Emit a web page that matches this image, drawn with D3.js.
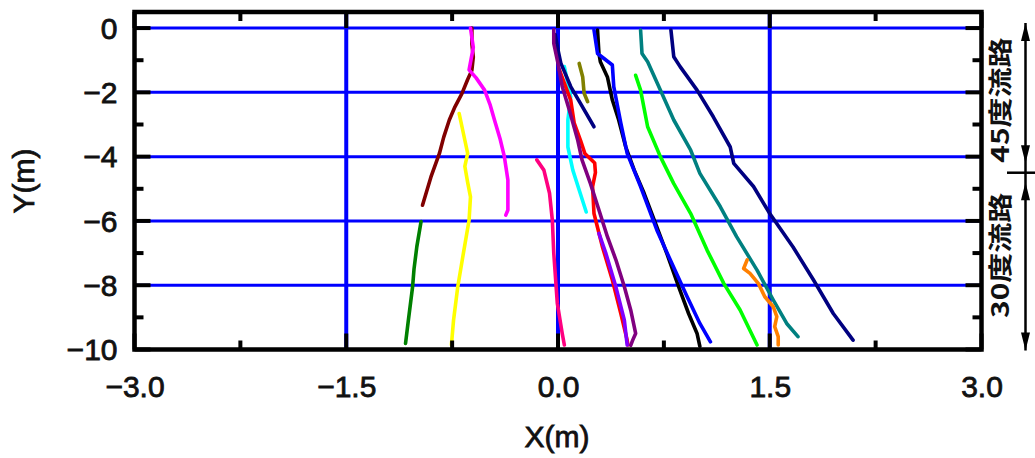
<!DOCTYPE html>
<html>
<head>
<meta charset="utf-8">
<script src="https://cdn.jsdelivr.net/npm/d3@7"></script>
<style>
  html, body { margin: 0; padding: 0; background: #fff; }
  svg { display: block; }
</style>
</head>
<body>
<svg id="chart" width="1035" height="458"></svg>
<script>
// Axis tick values
const xTicks = [-3.0, -1.5, 0.0, 1.5, 3.0];
const xMinorTicks = [-2.25, -0.75, 0.75, 2.25];
const yTicks = [0, -2, -4, -6, -8, -10];
const yMinorTicks = [-1, -3, -5, -7, -9];

// Channel sections annotated on the right edge
const sectionLabels = ["45度流路", "30度流路"];
const sectionBounds = [[0, -4.5], [-4.5, -10]];

// Trajectories, [x (m), y (m)]
const trackMaroon = [[-0.61,0],[-0.61,-0.5],[-0.60,-0.9],[-0.61,-1.31],[-0.64,-1.6],[-0.68,-2.03],[-0.73,-2.45],[-0.77,-2.86],[-0.81,-3.4],[-0.84,-3.9],[-0.90,-4.63],[-0.96,-5.51]];
const trackMagenta = [[-0.62,0],[-0.60,-0.6],[-0.63,-1.3],[-0.58,-1.55],[-0.52,-1.93],[-0.48,-2.4],[-0.45,-2.86],[-0.41,-3.45],[-0.38,-4.0],[-0.355,-4.73],[-0.355,-5.66],[-0.37,-5.82]];
const trackYellow = [[-0.70,-2.66],[-0.67,-3.28],[-0.64,-3.9],[-0.66,-4.3],[-0.64,-4.8],[-0.62,-5.25],[-0.63,-5.98],[-0.67,-7.0],[-0.71,-8.05],[-0.74,-9.09],[-0.755,-9.86]];
const trackGreen = [[-0.97,-6.02],[-1.0,-6.8],[-1.02,-7.5],[-1.03,-8.05],[-1.06,-9.09],[-1.08,-9.81]];
const trackPink = [[-0.15,-4.1],[-0.10,-4.42],[-0.06,-5.14],[-0.04,-5.98],[-0.03,-7.0],[-0.005,-8.56],[0.03,-9.5],[0.045,-9.86]];
const trackPurple = [[-0.03,-0.05],[-0.03,-0.48],[0,-1.1],[0.03,-1.82],[0.08,-2.55],[0.14,-3.49],[0.17,-4.1],[0.23,-4.84],[0.29,-5.66],[0.35,-6.49],[0.41,-7.21],[0.47,-8.05],[0.515,-8.77],[0.55,-9.5],[0.53,-9.7],[0.515,-9.87]];
const trackRed = [[0.01,-1.3],[0.09,-2.24],[0.115,-2.96],[0.16,-3.5],[0.19,-3.9],[0.26,-4.2],[0.265,-4.5],[0.245,-4.93],[0.255,-5.77],[0.315,-6.81],[0.385,-7.84],[0.445,-8.88],[0.49,-9.71],[0.495,-9.86]];
const trackViolet = [[0.29,-6.39],[0.34,-7.02],[0.41,-8.05],[0.47,-9.09],[0.49,-9.86]];
const trackCyan = [[0.045,-1.2],[0.09,-2.14],[0.07,-2.86],[0.07,-3.7],[0.105,-4.42],[0.15,-5.04],[0.20,-5.72]];
const trackNavyShort = [[-0.02,-0.2],[0.0,-0.68],[0.02,-1.09],[0.09,-1.82],[0.16,-2.35],[0.255,-3.07]];
const trackOlive = [[0.15,-1.1],[0.175,-1.52],[0.185,-2.03],[0.21,-2.29]];
const trackBlack = [[0.28,-0.06],[0.29,-0.79],[0.30,-1.05],[0.35,-1.52],[0.385,-2.24],[0.43,-2.86],[0.48,-3.7],[0.54,-4.42],[0.61,-5.14],[0.69,-6.07],[0.77,-7.0],[0.855,-8.05],[0.925,-8.88],[0.985,-9.5],[1.005,-9.9]];
const trackBlue = [[0.255,-0.06],[0.28,-0.79],[0.385,-1.15],[0.395,-1.82],[0.445,-2.96],[0.49,-3.9],[0.585,-4.93],[0.70,-6.28],[0.795,-7.21],[0.915,-8.36],[1.005,-9.19],[1.08,-9.76]];
const trackLime = [[0.55,-1.47],[0.585,-1.93],[0.635,-3.07],[0.725,-4.0],[0.82,-4.84],[0.94,-5.77],[1.055,-6.9],[1.175,-7.95],[1.29,-8.77],[1.41,-9.86]];
const trackTeal = [[0.585,-0.06],[0.595,-0.79],[0.635,-1.05],[0.725,-1.93],[0.82,-2.86],[0.94,-3.8],[1.005,-4.52],[1.15,-5.56],[1.265,-6.49],[1.41,-7.53],[1.525,-8.46],[1.62,-9.19],[1.70,-9.6]];
const trackNavy = [[0.80,-0.06],[0.82,-0.89],[0.865,-1.2],[0.985,-1.93],[1.10,-2.76],[1.22,-3.7],[1.245,-4.21],[1.385,-4.93],[1.50,-5.77],[1.665,-6.81],[1.81,-7.84],[1.95,-8.88],[2.09,-9.71]];
const trackOrange = [[1.34,-7.21],[1.315,-7.48],[1.36,-7.63],[1.42,-7.95],[1.465,-8.36],[1.525,-8.67],[1.55,-8.98],[1.535,-9.29],[1.56,-9.6],[1.56,-9.86]];

const tracks = [trackGreen, trackYellow, trackMaroon, trackMagenta, trackPink, trackCyan, trackOlive, trackNavyShort,
                trackRed, trackViolet, trackPurple, trackBlack, trackBlue, trackLime, trackTeal, trackNavy, trackOrange];
const trackColors = ["#008000", "#ffff00", "#800000", "#ff00ff", "#ff0080", "#00ffff", "#808000", "#000080",
                     "#ff0000", "#8000ff", "#800080", "#000000", "#0000ff", "#00ff00", "#008080", "#000080", "#ff8000"];

const svg = d3.select("#chart");
const x = d3.scaleLinear().domain([-3, 3]).range([134.5, 981.5]);
const y = d3.scaleLinear().domain([-10, 0.5]).range([349.5, 12]);

const font = "'Liberation Sans', Arial, sans-serif";
const gridColor = "#0000ff";
const ink = "#111";

// Grid lines
svg.append("g").selectAll("line").data(yTicks.filter(v => v > -10)).join("line")
  .attr("x1", x(-3)).attr("x2", x(3))
  .attr("y1", d => y(d)).attr("y2", d => y(d))
  .attr("stroke", gridColor).attr("stroke-width", 3);
svg.append("g").selectAll("line").data([-1.5, 0, 1.5]).join("line")
  .attr("x1", d => x(d)).attr("x2", d => x(d))
  .attr("y1", y(0.5)).attr("y2", y(-10))
  .attr("stroke", gridColor).attr("stroke-width", 4);

// Trajectories
const line = d3.line().x(d => x(d[0])).y(d => y(d[1]));
svg.append("g").selectAll("path").data(tracks).join("path")
  .attr("d", line)
  .attr("fill", "none")
  .attr("stroke", (d, i) => trackColors[i])
  .attr("stroke-width", 3.6)
  .attr("stroke-linejoin", "round")
  .attr("stroke-linecap", "round");

// Ticks on all four sides, pointing inward
const ticks = svg.append("g").attr("stroke", "#000").attr("stroke-width", 4);
const majorLen = 16, minorLen = 9;
[[yTicks, majorLen], [yMinorTicks, minorLen]].forEach(([vals, len]) => {
  vals.forEach(v => {
    ticks.append("line").attr("x1", x(-3)).attr("x2", x(-3) + len).attr("y1", y(v)).attr("y2", y(v));
    ticks.append("line").attr("x1", x(3)).attr("x2", x(3) - len).attr("y1", y(v)).attr("y2", y(v));
  });
});
[[xTicks, majorLen], [xMinorTicks, minorLen]].forEach(([vals, len]) => {
  vals.forEach(v => {
    ticks.append("line").attr("x1", x(v)).attr("x2", x(v)).attr("y1", y(0.5)).attr("y2", y(0.5) + len);
    ticks.append("line").attr("x1", x(v)).attr("x2", x(v)).attr("y1", y(-10)).attr("y2", y(-10) - len);
  });
});

// Frame
svg.append("rect")
  .attr("x", x(-3)).attr("y", y(0.5))
  .attr("width", x(3) - x(-3)).attr("height", y(-10) - y(0.5))
  .attr("fill", "none").attr("stroke", "#000").attr("stroke-width", 4.5);

// Tick labels
const styleText = sel => sel.attr("font-family", font).attr("font-size", 30)
  .attr("fill", ink).attr("stroke", ink).attr("stroke-width", 0.8);

const yAxis = d3.axisLeft(y).tickValues(yTicks).tickSize(0).tickPadding(17).tickFormat(d3.format("d"));
const gy = svg.append("g").attr("transform", `translate(${x(-3)},0)`).call(yAxis);
gy.select(".domain").remove();
gy.selectAll("text").call(styleText).attr("dy", "0.34em");

const xAxis = d3.axisBottom(x).tickValues(xTicks).tickSize(0).tickPadding(26).tickFormat(d3.format(".1f"));
const gx = svg.append("g").attr("transform", `translate(0,${y(-10)})`).call(xAxis);
gx.select(".domain").remove();
gx.selectAll("text").call(styleText);

// Axis titles
svg.append("text").attr("x", 557).attr("y", 447).attr("text-anchor", "middle")
  .call(styleText).text("X(m)");
svg.append("text").attr("transform", "translate(34,181) rotate(-90)").attr("text-anchor", "middle")
  .call(styleText).text("Y(m)");

// Channel section annotation
const ax = 1025.5, gap = 5, head = 18, half = 4.5;
const ann = svg.append("g");
ann.append("line").attr("x1", ax).attr("x2", ax)
  .attr("y1", y(sectionBounds[0][0]) - gap).attr("y2", y(sectionBounds[1][1]) + 1)
  .attr("stroke", "#000").attr("stroke-width", 2.5);
ann.append("line").attr("x1", 1007).attr("x2", 1035)
  .attr("y1", y(sectionBounds[0][1])).attr("y2", y(sectionBounds[0][1]))
  .attr("stroke", "#000").attr("stroke-width", 2.5);
sectionBounds.forEach(([a, b], i) => {
  const top = i === 0 ? y(a) - gap : y(a) + 9.5;
  const bot = i === 0 ? y(b) - 9.5 : y(b) + 1;
  ann.append("path").attr("d", `M${ax},${top} L${ax - half},${top + head} L${ax + half},${top + head} Z`).attr("fill", "#000");
  ann.append("path").attr("d", `M${ax},${bot} L${ax - half},${bot - head} L${ax + half},${bot - head} Z`).attr("fill", "#000");
  const mid = (top + bot) / 2 + (i === 0 ? 7 : -11);
  ann.append("text")
    .attr("transform", `translate(1009,${mid}) rotate(-90) scale(1,0.8)`)
    .attr("text-anchor", "middle")
    .attr("font-family", "'Noto Sans CJK JP', sans-serif")
    .attr("font-weight", "bold").attr("font-size", 30).attr("fill", ink)
    .text(sectionLabels[i]);
});
</script>
</body>
</html>
